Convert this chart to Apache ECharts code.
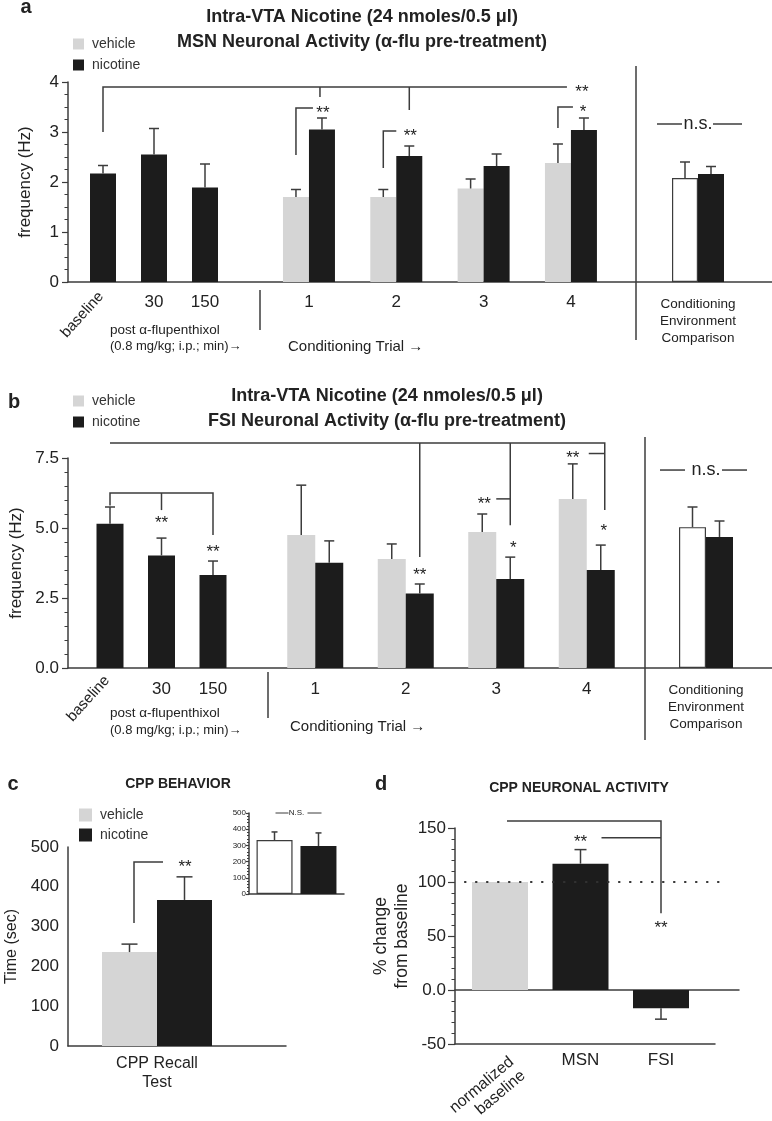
<!DOCTYPE html>
<html><head><meta charset="utf-8">
<script src="https://cdn.jsdelivr.net/npm/echarts@6/dist/echarts.min.js"></script>
<style>html,body{margin:0;padding:0;background:#fff}#c{width:772px;height:1121px}</style>
</head><body><div id="c"></div>
<script>
// ---------------- DATA ----------------
const PRE_CATS = ['baseline', '30', '150'];
const TRIAL_CATS = ['1', '2', '3', '4'];
const ENV_CATS = ['Conditioning\nEnvironment\nComparison'];

// panel a : MSN frequency (Hz)
const A_PRE_NIC = [2.17, 2.55, 1.89];
const A_PRE_NIC_SEM = [0.16, 0.52, 0.47];
const A_TRIAL_VEH = [1.70, 1.70, 1.87, 2.38];
const A_TRIAL_VEH_SEM = [0.15, 0.15, 0.19, 0.38];
const A_TRIAL_NIC = [3.05, 2.52, 2.32, 3.04];
const A_TRIAL_NIC_SEM = [0.23, 0.20, 0.24, 0.24];
const A_ENV_VEH = [2.08], A_ENV_VEH_SEM = [0.32];
const A_ENV_NIC = [2.16], A_ENV_NIC_SEM = [0.15];

// panel b : FSI frequency (Hz)
const B_PRE_NIC = [5.15, 4.02, 3.32];
const B_PRE_NIC_SEM = [0.60, 0.62, 0.50];
const B_TRIAL_VEH = [4.75, 3.89, 4.86, 6.04];
const B_TRIAL_VEH_SEM = [1.78, 0.54, 0.64, 1.25];
const B_TRIAL_NIC = [3.76, 2.66, 3.18, 3.50];
const B_TRIAL_NIC_SEM = [0.78, 0.34, 0.78, 0.89];
const B_ENV_VEH = [5.03], B_ENV_VEH_SEM = [0.72];
const B_ENV_NIC = [4.68], B_ENV_NIC_SEM = [0.57];

// panel c : CPP behaviour (sec)
const C_CATS = ['CPP Recall\nTest'];
const C_VEH = [236], C_VEH_SEM = [20];
const C_NIC = [367], C_NIC_SEM = [58];
const C_INSET_VEH = [333], C_INSET_VEH_SEM = [50];
const C_INSET_NIC = [296], C_INSET_NIC_SEM = [81];

// panel d : % change from baseline
const D_CATS = ['normalized\nbaseline', 'MSN', 'FSI'];
const D_VALS = [100, 117, -17];
const D_SEM = [0, 13, 10];

// ---------------- STYLE ----------------
const FONT = '"Liberation Sans", Arial, Helvetica, sans-serif';
const AX = '#3c3c3c', TXT = '#222', GRAY = '#d5d5d5', BLACK = '#1c1c1c';

const grids = [], xAxes = [], yAxes = [], series = [];
function addGrid(g, xa, ya) {
  grids.push(Object.assign({ outerBoundsMode: 'none', containLabel: false }, g));
  const i = grids.length - 1;
  xAxes.push(Object.assign({ gridIndex: i }, xa));
  yAxes.push(Object.assign({ gridIndex: i }, ya));
  return i;
}
const lineSt = { color: AX, width: 1.5 };
function bgX(onZero) {
  return { type: 'category', data: [''], axisLine: { show: true, onZero: !!onZero, lineStyle: lineSt },
    axisTick: { show: false }, axisLabel: { show: false }, splitLine: { show: false } };
}
function catX(data, lab) {
  return { type: 'category', data, axisLine: { show: false, onZero: false }, axisTick: { show: false },
    splitLine: { show: false },
    axisLabel: Object.assign({ color: TXT, fontFamily: FONT, fontSize: 17, margin: 12, interval: 0 }, lab || {}) };
}
function hidY(min, max) { return { type: 'value', min, max, show: false, splitLine: { show: false } }; }
function visY(min, max, step, minorSplit, o) {
  o = o || {};
  return { type: 'value', min, max, interval: step,
    axisLine: { show: true, lineStyle: lineSt },
    axisTick: { show: o.tick !== false, length: o.tickLen || 6, lineStyle: { color: AX, width: 1.2 } },
    minorTick: { show: !!minorSplit, splitNumber: minorSplit || 5, length: o.minorLen || 3.5, lineStyle: { color: AX, width: 1 } },
    splitLine: { show: false }, minorSplitLine: { show: false },
    axisLabel: { color: TXT, fontFamily: FONT, fontSize: o.fs || 17, margin: o.margin || 9, formatter: o.fmt },
    name: o.name, nameLocation: 'middle', nameGap: o.nameGap || 36,
    nameTextStyle: { color: TXT, fontFamily: FONT, fontSize: o.nameFs || 17, lineHeight: o.nameLh } };
}
function bar(name, gi, data, color, width, extra) {
  return Object.assign({ type: 'bar', name, xAxisIndex: gi, yAxisIndex: gi, data, barWidth: width, barGap: '0%',
    itemStyle: { color }, silent: true, z: 2 }, extra || {});
}
function errBars(gi, means, sems, dx, cap) {
  const data = [];
  means.forEach((m, i) => { if (m != null && sems[i]) data.push([i, m, sems[i]]); });
  return { type: 'custom', name: 'sem', xAxisIndex: gi, yAxisIndex: gi, z: 5, silent: true, data,
    renderItem(params, api) {
      const i = api.value(0), m = api.value(1), e = api.value(2);
      const p0 = api.coord([i, m]), p1 = api.coord([i, m < 0 ? m - e : m + e]);
      const x = p0[0] + dx;
      return { type: 'group', children: [
        { type: 'line', shape: { x1: x, y1: p0[1], x2: x, y2: p1[1] }, style: { stroke: AX, lineWidth: 1.5 } },
        { type: 'line', shape: { x1: x - cap / 2, y1: p1[1], x2: x + cap / 2, y2: p1[1] }, style: { stroke: AX, lineWidth: 1.5 } }
      ] };
    } };
}
const hideFirst = cats => (v) => v === cats[0] ? '' : v;
const envLab = { fontSize: 13.5, lineHeight: 17, margin: 14 };

// ---------------- PANEL A ----------------
const A_TOP = 82, A_H = 200;
const gA0 = addGrid({ left: 68, top: A_TOP, width: 704, height: A_H }, bgX(),
  visY(0, 4, 1, 4, { name: 'frequency (Hz)', nameGap: 34, fs: 17 }));
const gA1 = addGrid({ left: 77.5, top: A_TOP, width: 153, height: A_H }, catX(PRE_CATS, { formatter: hideFirst(PRE_CATS) }), hidY(0, 4));
const gA2 = addGrid({ left: 265.3, top: A_TOP, width: 349.3, height: A_H }, catX(TRIAL_CATS), hidY(0, 4));
const gA3 = addGrid({ left: 636, top: A_TOP, width: 124, height: A_H }, catX(ENV_CATS, envLab), hidY(0, 4));
series.push(bar('nicotine', gA1, A_PRE_NIC, BLACK, 26), errBars(gA1, A_PRE_NIC, A_PRE_NIC_SEM, 0, 10));
series.push(bar('vehicle', gA2, A_TRIAL_VEH, GRAY, 26), bar('nicotine', gA2, A_TRIAL_NIC, BLACK, 26),
  errBars(gA2, A_TRIAL_VEH, A_TRIAL_VEH_SEM, -13, 10), errBars(gA2, A_TRIAL_NIC, A_TRIAL_NIC_SEM, 13, 10));
series.push(bar('vehicle', gA3, A_ENV_VEH, '#fff', 26, { itemStyle: { color: '#fff', borderColor: AX, borderWidth: 1.2 } }),
  bar('nicotine', gA3, A_ENV_NIC, BLACK, 26),
  errBars(gA3, A_ENV_VEH, A_ENV_VEH_SEM, -13, 10), errBars(gA3, A_ENV_NIC, A_ENV_NIC_SEM, 13, 10));

// ---------------- PANEL B ----------------
const B_TOP = 458, B_H = 210;
const gB0 = addGrid({ left: 68, top: B_TOP, width: 704, height: B_H }, bgX(),
  visY(0, 7.5, 2.5, 5, { name: 'frequency (Hz)', nameGap: 34, fs: 17, fmt: v => v.toFixed(1) }));
const gB1 = addGrid({ left: 84.25, top: B_TOP, width: 154.5, height: B_H }, catX(PRE_CATS, { formatter: hideFirst(PRE_CATS), margin: 13 }), hidY(0, 7.5));
const gB2 = addGrid({ left: 270, top: B_TOP, width: 362, height: B_H }, catX(TRIAL_CATS, { margin: 13 }), hidY(0, 7.5));
const gB3 = addGrid({ left: 645, top: B_TOP, width: 122, height: B_H }, catX(ENV_CATS, envLab), hidY(0, 7.5));
series.push(bar('nicotine', gB1, B_PRE_NIC, BLACK, 27), errBars(gB1, B_PRE_NIC, B_PRE_NIC_SEM, 0, 10));
series.push(bar('vehicle', gB2, B_TRIAL_VEH, GRAY, 28), bar('nicotine', gB2, B_TRIAL_NIC, BLACK, 28),
  errBars(gB2, B_TRIAL_VEH, B_TRIAL_VEH_SEM, -14, 10), errBars(gB2, B_TRIAL_NIC, B_TRIAL_NIC_SEM, 14, 10));
series.push(bar('vehicle', gB3, B_ENV_VEH, '#fff', 27, { itemStyle: { color: '#fff', borderColor: AX, borderWidth: 1.2 } }),
  bar('nicotine', gB3, B_ENV_NIC, BLACK, 27),
  errBars(gB3, B_ENV_VEH, B_ENV_VEH_SEM, -13.5, 10), errBars(gB3, B_ENV_NIC, B_ENV_NIC_SEM, 13.5, 10));

// ---------------- PANEL C ----------------
const C_TOP = 847, C_H = 199;
const gC0 = addGrid({ left: 68, top: C_TOP, width: 218, height: C_H }, bgX(),
  visY(0, 500, 100, 0, { name: 'Time (sec)', nameGap: 48, tick: false, fs: 17, nameFs: 16 }));
const gC1 = addGrid({ left: 68, top: C_TOP, width: 178, height: C_H }, catX(C_CATS, { fontSize: 16, lineHeight: 19, margin: 8 }), hidY(0, 500));
series.push(bar('vehicle', gC1, C_VEH, GRAY, 55), bar('nicotine', gC1, C_NIC, BLACK, 55),
  errBars(gC1, C_VEH, C_VEH_SEM, -27.5, 16), errBars(gC1, C_NIC, C_NIC_SEM, 27.5, 16));
const gC2 = addGrid({ left: 249, top: 813, width: 95, height: 81 }, bgX(),
  visY(0, 500, 100, 5, { fs: 8, margin: 3, tickLen: 3, minorLen: 2 }));
series.push(bar('vehicle', gC2, C_INSET_VEH, '#fff', 36, { barGap: '22%', itemStyle: { color: '#fff', borderColor: AX, borderWidth: 1.2 } }),
  bar('nicotine', gC2, C_INSET_NIC, BLACK, 36, { barGap: '22%' }),
  errBars(gC2, C_INSET_VEH, C_INSET_VEH_SEM, -22, 6), errBars(gC2, C_INSET_NIC, C_INSET_NIC_SEM, 22, 6));

// ---------------- PANEL D ----------------
const D_TOP = 828, D_H = 216;
const gD0 = addGrid({ left: 455, top: D_TOP, width: 260, height: D_H }, bgX(false),
  visY(-50, 150, 50, 5, { name: '% change\nfrom baseline', nameGap: 42, fs: 17, nameFs: 17.5, nameLh: 21, tickLen: 7,
    fmt: v => v === 0 ? '0.0' : String(v) }));
const gDz = addGrid({ left: 455, top: D_TOP, width: 284, height: D_H }, bgX(true), hidY(-50, 150));
const gD1 = addGrid({ left: 459.75, top: D_TOP, width: 241.5, height: D_H }, catX(D_CATS, { formatter: hideFirst(D_CATS), margin: 8 }), hidY(-50, 150));
series.push(bar('nicotine', gD1, D_VALS, BLACK, 56, { itemStyle: { color: p => p.dataIndex === 0 ? GRAY : BLACK } }),
  errBars(gD1, D_VALS, D_SEM, 0, 12));

// ---------------- LEGENDS ----------------
const legData = [{ name: 'vehicle', itemStyle: { color: GRAY } }, { name: 'nicotine', itemStyle: { color: BLACK } }];
function legend(left, top, size, fs, gap) {
  return { data: legData, left, top, padding: 0, orient: 'vertical', icon: 'rect', itemWidth: size, itemHeight: size, itemGap: gap,
    selectedMode: false, textStyle: { fontSize: fs, color: '#333', fontFamily: FONT, padding: [0, 0, 0, 3] } };
}

const chart = echarts.init(document.getElementById('c'), null, { renderer: 'canvas' });
chart.setOption({
  backgroundColor: '#fff', animation: false,
  grid: grids, xAxis: xAxes, yAxis: yAxes, series,
  legend: [legend(73, 37, 11, 14, 7), legend(73, 394, 11, 14, 7), legend(79, 808, 13, 14, 6)]
});

// ---------------- ANNOTATIONS ----------------
const ax = gi => (cat, dx) => chart.convertToPixel({ xAxisIndex: gi }, cat) + (dx || 0);
const ay = gi => v => chart.convertToPixel({ yAxisIndex: gi }, v);
function txt(x, y, text, o) {
  o = o || {};
  return { type: 'text', x, y, rotation: o.rot || 0, z: 20, silent: true,
    style: { text, fill: o.color || TXT, fontSize: o.size || 14, fontWeight: o.weight || 'normal', fontFamily: o.family || FONT,
      align: o.align || 'center', verticalAlign: o.valign || 'middle', lineHeight: o.lh } };
}
function pl(points, o) {
  o = o || {};
  return { type: 'polyline', z: 20, silent: true, shape: { points },
    style: { stroke: o.color || AX, lineWidth: o.w || 1.5, fill: null, lineDash: o.dash, lineCap: o.cap || 'butt' } };
}
const star = (x, y, s, size) => txt(x, y + 5, s, { size: size || 17 });
const G = [];

// titles / panel letters
const TB = { size: 18, weight: 'bold' };
G.push(txt(26, 7, 'a', { size: 20, weight: 'bold' }));
G.push(txt(362, 17, 'Intra-VTA Nicotine (24 nmoles/0.5 μl)', TB));
G.push(txt(362, 42, 'MSN Neuronal Activity (α-flu pre-treatment)', TB));
G.push(txt(14, 402, 'b', { size: 20, weight: 'bold' }));
G.push(txt(387, 396, 'Intra-VTA Nicotine (24 nmoles/0.5 μl)', TB));
G.push(txt(387, 421, 'FSI Neuronal Activity (α-flu pre-treatment)', TB));
G.push(txt(13, 784, 'c', { size: 20, weight: 'bold' }));
G.push(txt(178, 784, 'CPP BEHAVIOR', { size: 14, weight: 'bold' }));
G.push(txt(381, 784, 'd', { size: 20, weight: 'bold' }));
G.push(txt(579, 788, 'CPP NEURONAL ACTIVITY', { size: 14, weight: 'bold' }));

// panel a annotations
{
  const xp = ax(gA1), xt = ax(gA2), xe = ax(gA3), y = ay(gA0);
  G.push(txt(xp(0, -2), y(0) + 12, PRE_CATS[0], { size: 15, align: 'right', rot: 48 * Math.PI / 180 }));
  G.push(txt(110, 330, 'post α-flupenthixol', { size: 13.5, align: 'left' }));
  G.push(txt(110, 346, '(0.8 mg/kg; i.p.; min)→', { size: 13, align: 'left' }));
  G.push(txt(288, 347, 'Conditioning Trial →', { size: 15, align: 'left' }));
  G.push(pl([[260, 290], [260, 330]]), pl([[636, 66], [636, 340]]));
  G.push(pl([[xp(0), y(3.0)], [xp(0), y(3.9)], [xt(3, -4), y(3.9)]]));
  G.push(pl([[xt(0, 11), y(3.9)], [xt(0, 11), y(3.7)]]), pl([[xt(1, 13), y(3.9)], [xt(1, 13), y(3.44)]]));
  G.push(star(xt(3, 11), y(3.9), '**'));
  G.push(pl([[xt(0, -13), y(2.54)], [xt(0, -13), y(3.48)], [xt(0, 4), y(3.48)]]), star(xt(0, 14), y(3.48), '**'));
  G.push(pl([[xt(1, -13), y(2.28)], [xt(1, -13), y(3.02)], [xt(1, 0), y(3.02)]]), star(xt(1, 14), y(3.02), '**'));
  G.push(pl([[xt(3, -13), y(3.08)], [xt(3, -13), y(3.5)], [xt(3, 2), y(3.5)]]), star(xt(3, 12), y(3.5), '*'));
  G.push(txt(xe(0), y(3.16), 'n.s.', { size: 18 }));
  G.push(pl([[xe(0, -41), y(3.16)], [xe(0, -16), y(3.16)]]), pl([[xe(0, 15), y(3.16)], [xe(0, 44), y(3.16)]]));
}
// panel b annotations
{
  const xp = ax(gB1), xt = ax(gB2), xe = ax(gB3), y = ay(gB0);
  G.push(txt(xp(0, -3), y(0) + 10, PRE_CATS[0], { size: 15, align: 'right', rot: 48 * Math.PI / 180 }));
  G.push(txt(110, 713, 'post α-flupenthixol', { size: 13.5, align: 'left' }));
  G.push(txt(110, 730, '(0.8 mg/kg; i.p.; min)→', { size: 13, align: 'left' }));
  G.push(txt(290, 727, 'Conditioning Trial →', { size: 15, align: 'left' }));
  G.push(pl([[268, 672], [268, 718]]), pl([[645, 437], [645, 740]]));
  G.push(pl([[xp(0), y(8.04)], [xt(3, 18), y(8.04)], [xt(3, 18), y(5.64)]]));
  G.push(pl([[xt(1, 14), y(8.04)], [xt(1, 14), y(3.96)]]), star(xt(1, 14), y(3.5), '**'));
  G.push(pl([[xt(2, 14), y(8.04)], [xt(2, 14), y(5.1)]]));
  G.push(pl([[xt(2, 0), y(6.04)], [xt(2, 14), y(6.04)]]), star(xt(2, -12), y(6.04), '**'), star(xt(2, 17), y(4.46), '*'));
  G.push(pl([[xt(3, 2), y(7.66)], [xt(3, 18), y(7.66)]]), star(xt(3, -14), y(7.66), '**'), star(xt(3, 17), y(5.07), '*'));
  G.push(pl([[xp(0), y(5.8)], [xp(0), y(6.25)], [xp(2), y(6.25)], [xp(2), y(4.75)]]));
  G.push(pl([[xp(1), y(6.25)], [xp(1), y(5.64)]]));
  G.push(star(xp(1), y(5.36), '**'), star(xp(2), y(4.32), '**'));
  G.push(txt(xe(0), y(7.07), 'n.s.', { size: 18 }));
  G.push(pl([[xe(0, -46), y(7.07)], [xe(0, -21), y(7.07)]]), pl([[xe(0, 16), y(7.07)], [xe(0, 41), y(7.07)]]));
}
// panel c annotations
{
  const x = ax(gC1), y = ay(gC0), xi = ax(gC2), yi = ay(gC2);
  G.push(pl([[x(0, -23), y(309)], [x(0, -23), y(462)], [x(0, 6), y(462)]]), star(x(0, 28), y(462), '**', 17));
  G.push(txt(xi(0), yi(500), 'N.S.', { size: 8 }));
  G.push(pl([[xi(0, -21), yi(500)], [xi(0, -8), yi(500)]], { w: 1 }), pl([[xi(0, 11), yi(500)], [xi(0, 25), yi(500)]], { w: 1 }));
}
// panel d annotations
{
  const x = ax(gD1), y = ay(gD0);
  G.push(txt(x(0, 6), y(-50) + 9, D_CATS[0], { size: 16, lh: 18, align: 'right', valign: 'top', rot: 40 * Math.PI / 180 }));
  G.push(pl([[465, y(100)], [726, y(100)]], { w: 2.2, dash: [0.5, 10.5], cap: 'round', color: '#333' }));
  G.push(pl([[x(0, 7), y(156.5)], [x(2, 0), y(156.5)], [x(2, 0), y(71)]]));
  G.push(pl([[x(1, 21), y(141)], [x(2, 0), y(141)]]));
  G.push(star(x(1), y(141), '**'), star(x(2), y(62), '**'));
}
chart.setOption({ graphic: G });
</script></body></html>
